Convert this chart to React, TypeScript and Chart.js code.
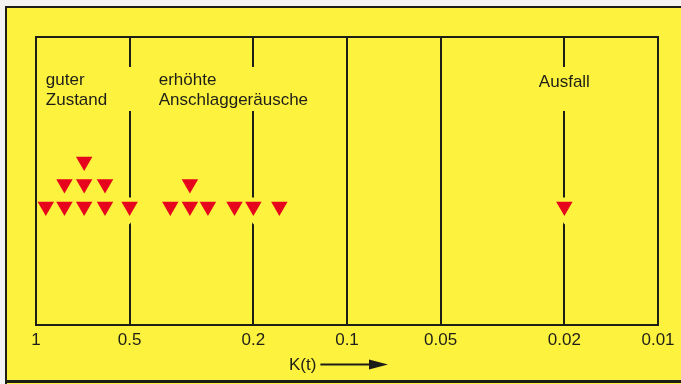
import React, { useEffect, useRef } from 'react';
import { Chart, registerables } from 'chart.js';

Chart.register(...registerables);

// ---- data ----
const tickValues = [1, 0.5, 0.2, 0.1, 0.05, 0.02, 0.01];
const tickLabels = ['1', '0.5', '0.2', '0.1', '0.05', '0.02', '0.01'];

// each measurement: K(t) value and its stacking level in the dot plot
const measurementK = [0.93, 0.81, 0.7, 0.6, 0.5, 0.37, 0.32, 0.28, 0.23, 0.2, 0.165, 0.02, 0.81, 0.7, 0.6, 0.32, 0.7];
const stackLevel = [1, 1, 1, 1, 1, 1, 1, 1, 1, 1, 1, 1, 2, 2, 2, 2, 3];

const zoneLabelLines = [['guter', 'Zustand'], ['erhöhte', 'Anschlaggeräusche'], ['Ausfall']];
const zoneLabelK = [0.93, 0.403, 0.02];
const zoneLabelAlign: CanvasTextAlign[] = ['left', 'left', 'center'];
const zoneLabelBaseline = [47.5, 47.5, 50];

// grid lines interrupted behind the zone labels and the markers
const interruptedLines = [0.5, 0.2, 0.02];

const axisTitle = 'K(t)';

// ---- style ----
const FONT = '"Liberation Sans", Arial, Helvetica, sans-serif';
const YELLOW = '#fdf23e';
const INK = '#1e1e18';
const RED = '#e6051c';

const points = measurementK.map((k, i) => ({ x: k, y: stackLevel[i] }));

const decor = {
  id: 'decor',
  beforeDraw(chart: any) {
    const { ctx, width, height } = chart;
    ctx.save();
    ctx.fillStyle = '#f3f3f1';
    ctx.fillRect(0, 0, width, height);
    ctx.fillStyle = YELLOW;
    ctx.fillRect(5, 6, width - 5, height - 6);
    ctx.fillStyle = INK;
    ctx.fillRect(5, 6, width - 5, 2);
    ctx.fillRect(5, 6, 2, height - 6);
    ctx.fillRect(5, 380, width - 5, 3);
    ctx.restore();
  },
  beforeDatasetsDraw(chart: any) {
    const { ctx, chartArea: a } = chart;
    const x = chart.scales.x;
    ctx.save();
    ctx.strokeStyle = INK;
    ctx.lineWidth = 2;
    ctx.beginPath();
    ctx.moveTo(a.left - 1, a.top);
    ctx.lineTo(a.right + 1, a.top);
    ctx.stroke();

    ctx.fillStyle = YELLOW;
    interruptedLines.forEach((v) => {
      const px = x.getPixelForValue(v);
      ctx.fillRect(px - 5, a.top + 30, 10, 44);
    });

    ctx.fillStyle = INK;
    ctx.font = `17px ${FONT}`;
    ctx.textBaseline = 'alphabetic';
    zoneLabelLines.forEach((lines, i) => {
      const px = x.getPixelForValue(zoneLabelK[i]);
      ctx.textAlign = zoneLabelAlign[i];
      lines.forEach((t, j) => ctx.fillText(t, px, a.top + zoneLabelBaseline[i] + j * 20.5));
    });
    ctx.restore();
  },
  afterDraw(chart: any) {
    const { ctx, chartArea: a } = chart;
    const cx = (a.left + a.right) / 2;
    ctx.save();
    ctx.fillStyle = INK;
    ctx.strokeStyle = INK;
    ctx.font = `17px ${FONT}`;
    ctx.textAlign = 'left';
    ctx.textBaseline = 'alphabetic';
    const tx = cx - 58;
    const ty = a.bottom + 45;
    ctx.fillText(axisTitle, tx, ty);
    const w = ctx.measureText(axisTitle).width;
    const ay = ty - 5.5;
    const x0 = tx + w + 4;
    const tip = cx + 41;
    ctx.lineWidth = 2;
    ctx.beginPath();
    ctx.moveTo(x0, ay);
    ctx.lineTo(tip - 14, ay);
    ctx.stroke();
    ctx.beginPath();
    ctx.moveTo(tip - 19, ay - 5);
    ctx.lineTo(tip, ay);
    ctx.lineTo(tip - 19, ay + 5);
    ctx.closePath();
    ctx.fill();
    ctx.restore();
  },
};

export default function App() {
  const ref = useRef<HTMLCanvasElement>(null);
  useEffect(() => {
    const chart = new Chart(ref.current as HTMLCanvasElement, {
      type: 'scatter',
      data: {
        datasets: [
          {
            label: 'halo',
            data: points,
            pointStyle: 'triangle',
            pointRotation: 180,
            pointRadius: (c: any) => (c.raw && interruptedLines.includes(c.raw.x) ? 18 : 0),
            pointBackgroundColor: YELLOW,
            backgroundColor: YELLOW,
            pointBorderWidth: 0,
            borderWidth: 0,
            order: 2,
          } as any,
          {
            label: 'K(t)',
            data: points,
            pointStyle: 'triangle',
            pointRotation: 180,
            pointRadius: 9.5,
            pointBackgroundColor: RED,
            backgroundColor: RED,
            pointBorderWidth: 0,
            borderWidth: 0,
            order: 1,
          } as any,
        ],
      },
      options: {
        responsive: true,
        maintainAspectRatio: false,
        animation: false,
        events: [],
        layout: { padding: { left: 36, top: 37, right: 23, bottom: 28.6 } },
        plugins: { legend: { display: false }, tooltip: { enabled: false } },
        scales: {
          x: {
            type: 'logarithmic',
            reverse: true,
            min: 0.01,
            max: 1,
            afterBuildTicks: (s: any) => {
              s.ticks = tickValues.map((v) => ({ value: v }));
            },
            grid: { color: INK, lineWidth: 2, drawTicks: false },
            border: { display: true, color: INK, width: 2 },
            ticks: {
              autoSkip: false,
              maxRotation: 0,
              minRotation: 0,
              padding: 5,
              color: INK,
              font: { family: FONT, size: 17 },
              callback: (_v: any, i: number) => tickLabels[i],
            },
          },
          y: { display: false, min: -4.27, max: 8.53 },
        },
      } as any,
      plugins: [decor],
    });
    return () => chart.destroy();
  }, []);
  return (
    <div style={{ position: 'fixed', left: 0, top: 0, width: 681, height: 384 }}>
      <canvas ref={ref} />
    </div>
  );
}
